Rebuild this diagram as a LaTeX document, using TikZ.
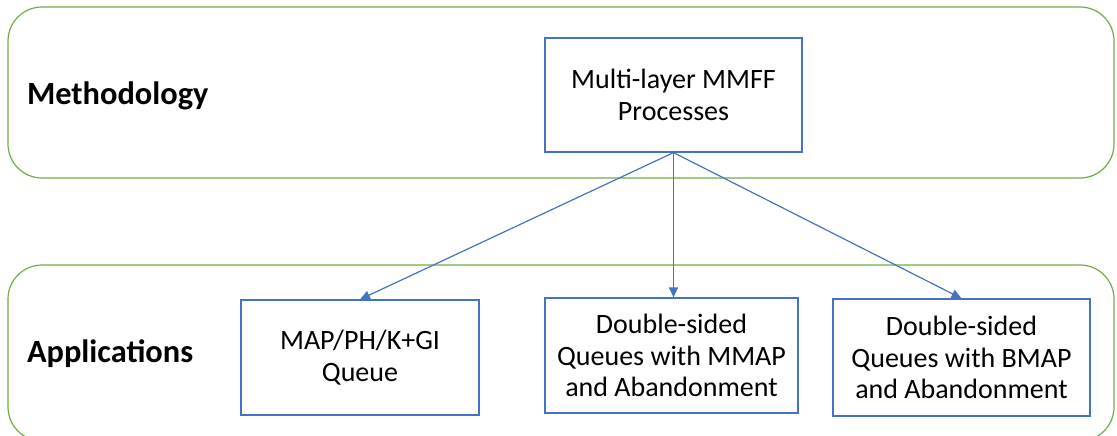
\documentclass[tikz,border=0pt]{standalone}
\usepackage{fontspec}
\setmainfont{Carlito}
\usepackage{xcolor}
\usetikzlibrary{arrows.meta, positioning, calc}
\definecolor{framegreen}{HTML}{70AD47}
\definecolor{boxblue}{HTML}{4472C4}

\begin{document}
\begin{tikzpicture}[x=0.5pt, y=-0.5pt,
    frame/.style={draw=framegreen, line width=0.6pt, rounded corners=17pt},
    stage/.style={draw=boxblue, line width=0.6pt, align=center, inner sep=0pt,
        font=\fontsize{14}{15.8}\selectfont},
    heading/.style={anchor=west, font=\fontsize{16.2}{19}\selectfont\bfseries},
    link/.style={draw=boxblue, line width=0.6pt, -{Triangle[length=5pt, width=4.5pt]}}]
    \useasboundingbox (0,0) rectangle (1117,435);
    % the two layers
    \draw[frame] (8,7) rectangle (1114,178);
    \draw[frame] (8,265) rectangle (1114,441);
    \node[heading] (method) at (20,96) {Methodology};
    \node[heading] (apps) at (20,354) {Applications};
    % boxes
    \node[stage, minimum width=128.5pt, minimum height=57pt] (mmff) at (673.5,95) {Multi-layer MMFF\\Processes};
    \node[stage, minimum width=119pt, minimum height=57.5pt] (gi) at (360,357.5) {MAP/PH/K+GI\\Queue};
    \node[stage, minimum width=126.5pt, minimum height=57.5pt] (mmap) at (671.5,355.5) {Double-sided\\Queues with MMAP\\and Abandonment};
    \node[stage, minimum width=128.5pt, minimum height=58.5pt] (bmap) at (961.5,357.5) {Double-sided\\Queues with BMAP\\and Abandonment};
    % arrows
    \draw[link] (mmff.south) -- (gi.north);
    \draw[link] (mmff.south) -- (mmff.south |- mmap.north);
    \draw[link] (mmff.south) -- (bmap.north);
\end{tikzpicture}
\end{document}
